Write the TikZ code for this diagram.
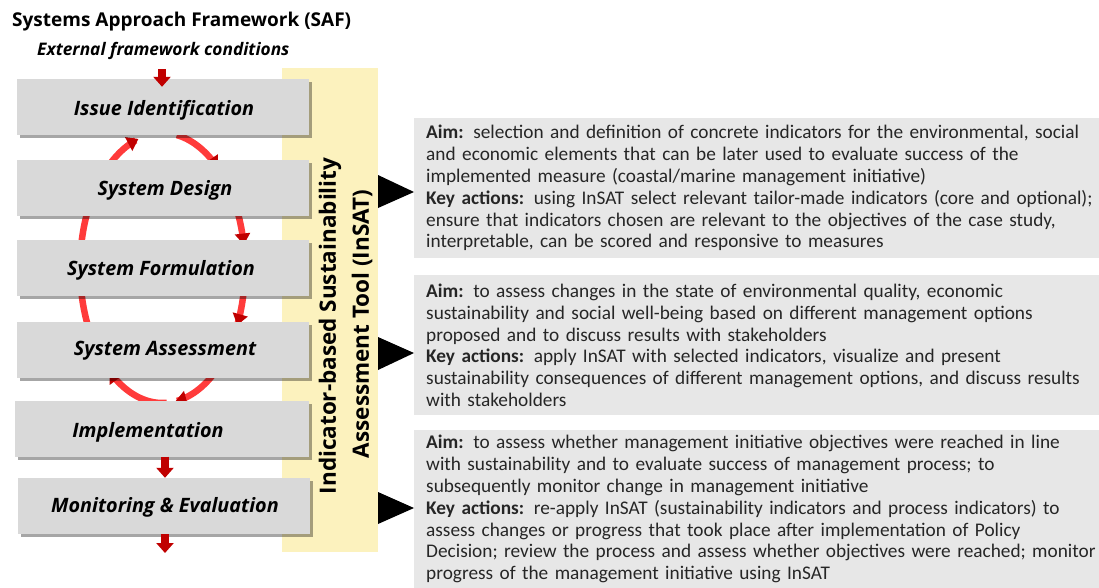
\documentclass[tikz,border=0pt]{standalone}
\usepackage{fontspec}
\setmainfont{Open Sans}
\newfontfamily\calib{Carlito}
\newfontfamily\osans{Open Sans}
\usetikzlibrary{arrows.meta,shadows}
\definecolor{boxgray}{HTML}{D9D9D9}
\definecolor{txtgray}{HTML}{E7E7E7}
\definecolor{insat}{HTML}{FCF2BE}
\definecolor{darkred}{HTML}{C00000}
\definecolor{loopred}{HTML}{FF3B3B}
\definecolor{txt}{HTML}{262626}
\tikzset{
  stepbox/.style={fill=boxgray, minimum width=292pt, minimum height=56pt, inner sep=0pt,
    drop shadow={shadow xshift=3pt, shadow yshift=-3pt, fill=black, opacity=0.35}},
  steplabel/.style={font=\osans\bfseries\itshape\fontsize{19.8}{22}\selectfont, text=black, inner sep=0pt},
  infobox/.style={fill=txtgray, anchor=north west, minimum width=684pt, text width=672pt,
    inner xsep=12pt, inner ysep=0pt, align=left, text=txt,
    font=\calib\fontsize{19.3}{21.8}\selectfont},
  flowarrow/.style={draw=darkred, line width=8pt, -{Triangle[length=10pt,width=17pt]}},
  looparrow/.style={draw=loopred, line width=6.5pt,
    -{Triangle[length=11pt,width=15pt,fill=darkred,color=darkred]}},
  pointer/.style={fill=black},
  vtext/.style={rotate=90, font=\osans\bfseries\fontsize{22.5}{24}\selectfont, text=black, inner sep=0pt},
}
\newcommand{\loopseg}[2]{\draw[looparrow] plot[domain=#1:#2, samples=40, smooth]
  ({162.5+82.5*cos(\x)}, {268-135*sin(\x)});}
\begin{document}
\begin{tikzpicture}[x=1pt,y=-1pt]
\useasboundingbox (0,0) rectangle (1099,587);
% title
\node[anchor=west, font=\osans\bfseries\fontsize{19}{22}\selectfont, text=black, inner sep=0pt] (title) at (12,22) {Systems Approach Framework (SAF)};
\node[anchor=west, font=\osans\bfseries\itshape\fontsize{17.3}{20}\selectfont, text=black, inner sep=0pt] (ext) at (37,51) {External framework conditions};
% InSAT band
\node[fill=insat, anchor=north west, minimum width=96pt, minimum height=484pt, inner sep=0pt] (band) at (282,68) {};
% loop arrows
\loopseg{225}{107}
\loopseg{80}{48}
\loopseg{40}{10}
\loopseg{3}{-25}
\loopseg{-35}{-81}
\loopseg{-87}{-130}
% steps
\node[stepbox] (s1) at (163,107) {};
\node[stepbox] (s2) at (163,187.5) {};
\node[stepbox] (s3) at (163,267.5) {};
\node[stepbox] (s4) at (163,350) {};
\node[stepbox, minimum width=294pt] (s5) at (162,428.5) {};
\node[stepbox] (s6) at (164,506) {};
\node[steplabel] at (164,110) {Issue Identification};
\node[steplabel] at (165,190) {System Design};
\node[steplabel] at (161,270) {System Formulation};
\node[steplabel] at (165,351) {System Assessment};
\node[steplabel] at (148,432) {Implementation};
\node[steplabel] at (165,507) {Monitoring \& Evaluation};
% flow arrows
\coordinate (top) at (162,69);
\coordinate (bot) at (165,553);
\draw[flowarrow] (top) -- ([yshift=-8pt]top |- s1.north);
\draw[flowarrow] (bot |- s5.south) -- (bot |- s6.north);
\draw[flowarrow] (bot |- s6.south) -- (bot);
% vertical text
\node[vtext] (v1) at (330,326) {Indicator-based Sustainability};
\node[vtext] (v2) at (362,324) {Assessment Tool (InSAT)};
% info boxes
\node[infobox, minimum height=140pt] (a) at (414,118) {%
\makebox[648pt][s]{\textbf{Aim:} selection and definition of concrete indicators for the environmental, social}\\
and economic elements that can be later used to evaluate success of the\\
implemented measure (coastal/marine management initiative)\\
\textbf{Key actions:} using InSAT select relevant tailor-made indicators (core and optional);\\
ensure that indicators chosen are relevant to the objectives of the case study,\\
interpretable, can be scored and responsive to measures};
\node[infobox, minimum height=140pt] (b) at (414,275) {%
\textbf{Aim:} to assess changes in the state of environmental quality, economic\\
sustainability and social well-being based on different management options\\
proposed and to discuss results with stakeholders\\
\textbf{Key actions:} apply InSAT with selected indicators, visualize and present\\
sustainability consequences of different management options, and discuss results\\
with stakeholders};
\node[infobox, minimum height=158pt] (c) at (414,430) {%
\makebox[628pt][s]{\textbf{Aim:} to assess whether management initiative objectives were reached in line}\\
with sustainability and to evaluate success of management process; to\\
subsequently monitor change in management initiative\\
\textbf{Key actions:} re-apply InSAT (sustainability indicators and process indicators) to\\
assess changes or progress that took place after implementation of Policy\\
Decision; review the process and assess whether objectives were reached; monitor\\
progress of the management initiative using InSAT};
% pointers
\fill[pointer] (378,175) -- (414,192) -- (378,208) -- cycle;
\fill[pointer] (378,337) -- (414,353) -- (378,370) -- cycle;
\fill[pointer] (378,492) -- (414,508) -- (378,524) -- cycle;
\end{tikzpicture}
\end{document}
